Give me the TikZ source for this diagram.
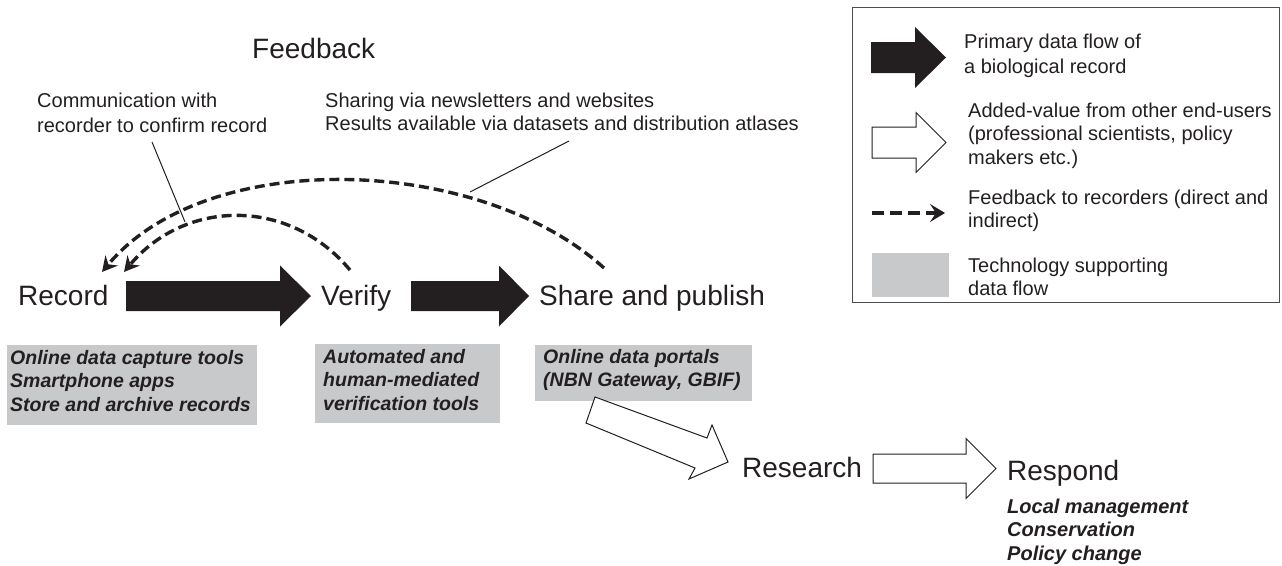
\documentclass[tikz,border=0pt]{standalone}
\usepackage{fontspec}
\setmainfont{Liberation Sans}
\usetikzlibrary{arrows.meta}
\definecolor{ink}{HTML}{231F20}
\definecolor{techgray}{RGB}{200,201,203}
\definecolor{frame}{HTML}{4D4D4D}
\newcommand\mylines[1]{\begin{tabular}[t]{@{}l@{}}#1\end{tabular}}
% #1 style, #2 shaft left, #3 head back, #4 tip, #5 y centre, #6 half shaft, #7 half head
\newcommand\myblockarrow[7]{%
  \path[#1] (#2,#5-#6) -- (#3,#5-#6) -- (#3,#5-#7) -- (#4,#5) -- (#3,#5+#7) -- (#3,#5+#6) -- (#2,#5+#6) -- cycle;}
\tikzset{
  lab/.style={inner sep=0pt, anchor=base west, text=ink},
  big/.style={lab, font=\fontsize{28}{34}\selectfont},
  note/.style={lab, font=\fontsize{20}{25}\selectfont},
  legtxt/.style={lab, font=\fontsize{20}{23.7}\selectfont},
  tech/.style={lab, font=\fontsize{19.5}{23.5}\selectfont\bfseries\itshape},
  primary/.style={fill=ink},
  addval/.style={fill=white, draw=ink, line width=1pt, line join=miter},
  fbline/.style={ink, line width=3.4pt, dash pattern=on 10pt off 5pt,
    -{Stealth[length=15pt,width=16pt,inset=5pt]}},
  leader/.style={ink, line width=1pt},
  techbox/.style={fill=techgray}
}
\begin{document}
\begin{tikzpicture}[x=1pt,y=-1pt]
\useasboundingbox (0,0) rectangle (1282,565);

% ---------- technology boxes ----------
\path[techbox] (7,345) rectangle (257,425);
\path[techbox] (315,344) rectangle (500,423);
\path[techbox] (535,345) rectangle (752,401);

% ---------- main stage labels ----------
\node[big] (record) at (18,305) {Record};
\node[big] (verify) at (321,305) {Verify};
\node[big] (share) at (539,305) {Share and publish};
\node[big] (research) at (742,477) {Research};
\node[big] (respond) at (1007,480) {Respond};
\node[big] (feedback) at (252,58) {Feedback};

% ---------- primary flow arrows ----------
\myblockarrow{primary}{126}{280}{311}{296}{15}{30.5}
\myblockarrow{primary}{411}{499}{529}{296}{15}{30.5}

% ---------- added-value arrows ----------
\path[addval] (595,397) -- (707,438) -- (712,425) -- (728,462) -- (689,479) -- (695,468) -- (586,423) -- cycle;
\myblockarrow{addval}{873}{966}{996}{468.5}{14.5}{30}

% ---------- feedback arcs ----------
\coordinate (outS) at (604,268);
\coordinate (outE) at (102,272);
\coordinate (inS) at (350,270);
\coordinate (inE) at (124,272);
\draw[fbline] (outS) .. controls (479,155) and (207,146) .. (outE);
\draw[fbline] (inS) .. controls (289,197) and (185,199) .. (inE);

% ---------- annotations ----------
\node[note] (comm) at (37,107) {\mylines{Communication with\\ recorder to confirm record}};
\node[lab, font=\fontsize{20}{23.3}\selectfont] (sharing) at (325,107) {\mylines{Sharing via newsletters and websites\\ Results available via datasets and distribution atlases}};
\coordinate (commA) at (152,142);
\coordinate (commB) at (185,222);
\coordinate (shareA) at (569,141);
\coordinate (shareB) at (470,192);
\draw[leader] (commA) -- (commB);
\draw[leader] (shareA) -- (shareB);

% ---------- technology texts ----------
\node[tech] (t1) at (10,364) {\mylines{Online data capture tools\\ Smartphone apps\\ Store and archive records}};
\node[tech] (t2) at (323,363) {\mylines{Automated and\\ human-mediated\\ verification tools}};
\node[tech] (t3) at (543,363) {\mylines{Online data portals\\ (NBN Gateway, GBIF)}};
\node[lab, font=\fontsize{20}{23.5}\selectfont\bfseries\itshape] (resp) at (1007,513) {\mylines{Local management\\ Conservation\\ Policy change}};

% ---------- legend ----------
\draw[frame, line width=1pt] (852,7) rectangle (1279.5,302);
\myblockarrow{primary}{871}{915}{946}{57.5}{15.5}{30.5}
\node[lab, font=\fontsize{20}{25}\selectfont] (l1) at (964,48) {\mylines{Primary data flow of\\ a biological record}};
\myblockarrow{addval}{872}{916}{946}{142.5}{15.5}{30}
\node[legtxt] (l2) at (968,117) {\mylines{Added-value from other end-users\\ (professional scientists, policy\\ makers etc.)}};
\coordinate (legA) at (872,213);
\coordinate (legB) at (945,213);
\draw[fbline, dash pattern=on 12pt off 6pt, -{Stealth[length=15pt,width=18pt,inset=6pt]}] (legA) -- (legB);
\node[legtxt] (l3) at (968,204) {\mylines{Feedback to recorders (direct and\\ indirect)}};
\path[techbox] (872,253) rectangle (949,297);
\node[legtxt] (l4) at (968,272) {\mylines{Technology supporting\\ data flow}};
\end{tikzpicture}
\end{document}
